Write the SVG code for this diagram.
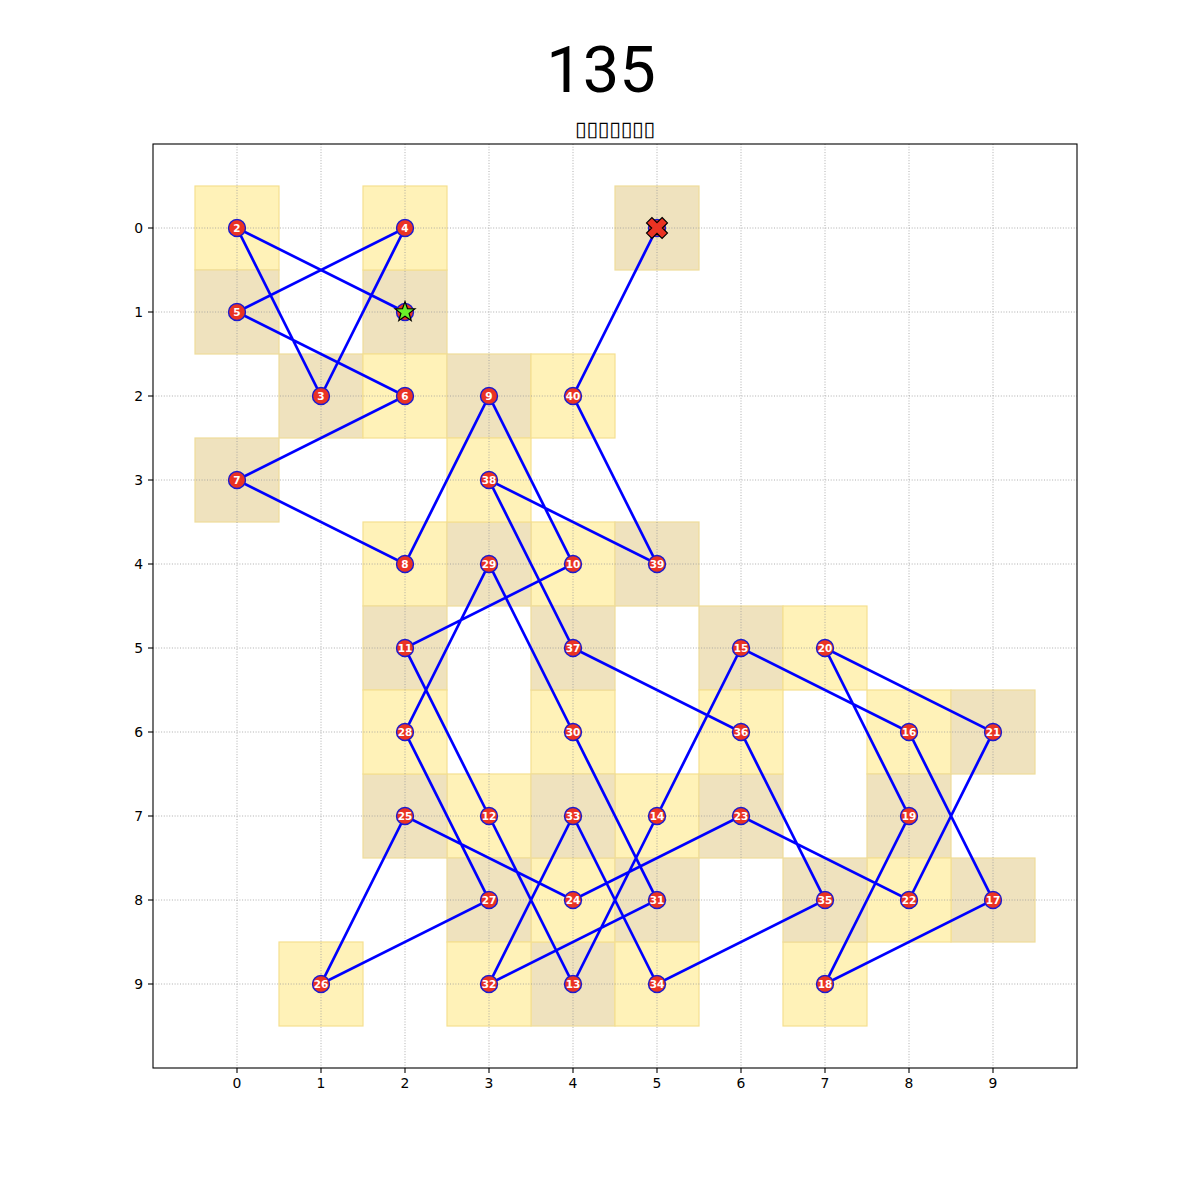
<svg xmlns="http://www.w3.org/2000/svg" width="1200" height="1200" viewBox="0 0 1200 1200">
<style>
.cy{fill:#fff2b8;stroke:#f5df8f;stroke-width:1.2}
.ct{fill:#efe2be;stroke:#eedc9a;stroke-width:1.2}
.g{stroke:#9a9a9a;stroke-width:0.8;stroke-dasharray:1,1.7}
.e{stroke:#0000ff;stroke-width:2.7;fill:none;stroke-linecap:butt}
.n circle{fill:#ea3323;stroke:#1a1ad0;stroke-width:1.4}
.n text{fill:#ffffff;font-family:"DejaVu Sans",sans-serif;font-weight:bold;font-size:10.5px;text-anchor:middle}
.tk{font-family:"DejaVu Sans",sans-serif;font-size:13.9px;fill:#000}
</style>
<rect width="1200" height="1200" fill="#ffffff"/>
<text x="601" y="92" font-family="Roboto, sans-serif" font-size="65" text-anchor="middle" fill="#000">135</text>
<text x="615" y="136" font-family="DejaVu Sans, sans-serif" font-size="21" text-anchor="middle" fill="#000" textLength="80" lengthAdjust="spacing">▯▯▯▯▯▯▯</text>
<g id="cells">
<rect class="ct" x="363" y="270" width="84" height="84"/>
<rect class="cy" x="195" y="186" width="84" height="84"/>
<rect class="ct" x="279" y="354" width="84" height="84"/>
<rect class="cy" x="363" y="186" width="84" height="84"/>
<rect class="ct" x="195" y="270" width="84" height="84"/>
<rect class="cy" x="363" y="354" width="84" height="84"/>
<rect class="ct" x="195" y="438" width="84" height="84"/>
<rect class="cy" x="363" y="522" width="84" height="84"/>
<rect class="ct" x="447" y="354" width="84" height="84"/>
<rect class="cy" x="531" y="522" width="84" height="84"/>
<rect class="ct" x="363" y="606" width="84" height="84"/>
<rect class="cy" x="447" y="774" width="84" height="84"/>
<rect class="ct" x="531" y="942" width="84" height="84"/>
<rect class="cy" x="615" y="774" width="84" height="84"/>
<rect class="ct" x="699" y="606" width="84" height="84"/>
<rect class="cy" x="867" y="690" width="84" height="84"/>
<rect class="ct" x="951" y="858" width="84" height="84"/>
<rect class="cy" x="783" y="942" width="84" height="84"/>
<rect class="ct" x="867" y="774" width="84" height="84"/>
<rect class="cy" x="783" y="606" width="84" height="84"/>
<rect class="ct" x="951" y="690" width="84" height="84"/>
<rect class="cy" x="867" y="858" width="84" height="84"/>
<rect class="ct" x="699" y="774" width="84" height="84"/>
<rect class="cy" x="531" y="858" width="84" height="84"/>
<rect class="ct" x="363" y="774" width="84" height="84"/>
<rect class="cy" x="279" y="942" width="84" height="84"/>
<rect class="ct" x="447" y="858" width="84" height="84"/>
<rect class="cy" x="363" y="690" width="84" height="84"/>
<rect class="ct" x="447" y="522" width="84" height="84"/>
<rect class="cy" x="531" y="690" width="84" height="84"/>
<rect class="ct" x="615" y="858" width="84" height="84"/>
<rect class="cy" x="447" y="942" width="84" height="84"/>
<rect class="ct" x="531" y="774" width="84" height="84"/>
<rect class="cy" x="615" y="942" width="84" height="84"/>
<rect class="ct" x="783" y="858" width="84" height="84"/>
<rect class="cy" x="699" y="690" width="84" height="84"/>
<rect class="ct" x="531" y="606" width="84" height="84"/>
<rect class="cy" x="447" y="438" width="84" height="84"/>
<rect class="ct" x="615" y="522" width="84" height="84"/>
<rect class="cy" x="531" y="354" width="84" height="84"/>
<rect class="ct" x="615" y="186" width="84" height="84"/>
</g>
<g id="grid">
<line class="g" x1="237" y1="144" x2="237" y2="1068"/>
<line class="g" x1="321" y1="144" x2="321" y2="1068"/>
<line class="g" x1="405" y1="144" x2="405" y2="1068"/>
<line class="g" x1="489" y1="144" x2="489" y2="1068"/>
<line class="g" x1="573" y1="144" x2="573" y2="1068"/>
<line class="g" x1="657" y1="144" x2="657" y2="1068"/>
<line class="g" x1="741" y1="144" x2="741" y2="1068"/>
<line class="g" x1="825" y1="144" x2="825" y2="1068"/>
<line class="g" x1="909" y1="144" x2="909" y2="1068"/>
<line class="g" x1="993" y1="144" x2="993" y2="1068"/>
<line class="g" x1="153" y1="228" x2="1077" y2="228"/>
<line class="g" x1="153" y1="312" x2="1077" y2="312"/>
<line class="g" x1="153" y1="396" x2="1077" y2="396"/>
<line class="g" x1="153" y1="480" x2="1077" y2="480"/>
<line class="g" x1="153" y1="564" x2="1077" y2="564"/>
<line class="g" x1="153" y1="648" x2="1077" y2="648"/>
<line class="g" x1="153" y1="732" x2="1077" y2="732"/>
<line class="g" x1="153" y1="816" x2="1077" y2="816"/>
<line class="g" x1="153" y1="900" x2="1077" y2="900"/>
<line class="g" x1="153" y1="984" x2="1077" y2="984"/>
</g>
<g id="axes">
<rect x="153" y="144" width="924" height="924" fill="none" stroke="#000" stroke-width="1.1"/>
<g stroke="#000" stroke-width="1.1">
<line x1="237" y1="1068" x2="237" y2="1073"/><line x1="321" y1="1068" x2="321" y2="1073"/><line x1="405" y1="1068" x2="405" y2="1073"/><line x1="489" y1="1068" x2="489" y2="1073"/><line x1="573" y1="1068" x2="573" y2="1073"/><line x1="657" y1="1068" x2="657" y2="1073"/><line x1="741" y1="1068" x2="741" y2="1073"/><line x1="825" y1="1068" x2="825" y2="1073"/><line x1="909" y1="1068" x2="909" y2="1073"/><line x1="993" y1="1068" x2="993" y2="1073"/>
<line x1="148" y1="228" x2="153" y2="228"/><line x1="148" y1="312" x2="153" y2="312"/><line x1="148" y1="396" x2="153" y2="396"/><line x1="148" y1="480" x2="153" y2="480"/><line x1="148" y1="564" x2="153" y2="564"/><line x1="148" y1="648" x2="153" y2="648"/><line x1="148" y1="732" x2="153" y2="732"/><line x1="148" y1="816" x2="153" y2="816"/><line x1="148" y1="900" x2="153" y2="900"/><line x1="148" y1="984" x2="153" y2="984"/>
</g>
<g class="tk" text-anchor="middle">
<text x="237" y="1088">0</text><text x="321" y="1088">1</text><text x="405" y="1088">2</text><text x="489" y="1088">3</text><text x="573" y="1088">4</text><text x="657" y="1088">5</text><text x="741" y="1088">6</text><text x="825" y="1088">7</text><text x="909" y="1088">8</text><text x="993" y="1088">9</text>
</g>
<g class="tk" text-anchor="end">
<text x="143" y="233">0</text><text x="143" y="317">1</text><text x="143" y="401">2</text><text x="143" y="485">3</text><text x="143" y="569">4</text><text x="143" y="653">5</text><text x="143" y="737">6</text><text x="143" y="821">7</text><text x="143" y="905">8</text><text x="143" y="989">9</text>
</g>
</g>
<g id="connectors">
<polyline class="e" points="405,312 237,228 321,396 405,228 237,312 405,396 237,480 405,564 489,396 573,564 405,648 489,816 573,984 657,816 741,648 909,732 993,900 825,984 909,816 825,648 993,732 909,900 741,816 573,900 405,816 321,984 489,900 405,732 489,564 573,732 657,900 489,984 573,816 657,984 825,900 741,732 573,648 489,480 657,564 573,396 657,228" stroke-linejoin="miter"/>
</g>
<g id="nodes">
<g id="n1" class="n"><circle cx="405" cy="312" r="8.5"/><polygon points="405,301.5 407.5,308.6 415,308.8 409.1,313.4 411.2,320.5 405,316.3 398.8,320.5 400.9,313.4 395,308.8 402.5,308.6" fill="#6af02a" stroke="#000" stroke-width="1.2"/></g>
<g id="n2" class="n"><circle cx="237" cy="228" r="8.5"/><text x="237" y="231.8">2</text></g>
<g id="n3" class="n"><circle cx="321" cy="396" r="8.5"/><text x="321" y="399.8">3</text></g>
<g id="n4" class="n"><circle cx="405" cy="228" r="8.5"/><text x="405" y="231.8">4</text></g>
<g id="n5" class="n"><circle cx="237" cy="312" r="8.5"/><text x="237" y="315.8">5</text></g>
<g id="n6" class="n"><circle cx="405" cy="396" r="8.5"/><text x="405" y="399.8">6</text></g>
<g id="n7" class="n"><circle cx="237" cy="480" r="8.5"/><text x="237" y="483.8">7</text></g>
<g id="n8" class="n"><circle cx="405" cy="564" r="8.5"/><text x="405" y="567.8">8</text></g>
<g id="n9" class="n"><circle cx="489" cy="396" r="8.5"/><text x="489" y="399.8">9</text></g>
<g id="n10" class="n"><circle cx="573" cy="564" r="8.5"/><text x="573" y="567.8">10</text></g>
<g id="n11" class="n"><circle cx="405" cy="648" r="8.5"/><text x="405" y="651.8">11</text></g>
<g id="n12" class="n"><circle cx="489" cy="816" r="8.5"/><text x="489" y="819.8">12</text></g>
<g id="n13" class="n"><circle cx="573" cy="984" r="8.5"/><text x="573" y="987.8">13</text></g>
<g id="n14" class="n"><circle cx="657" cy="816" r="8.5"/><text x="657" y="819.8">14</text></g>
<g id="n15" class="n"><circle cx="741" cy="648" r="8.5"/><text x="741" y="651.8">15</text></g>
<g id="n16" class="n"><circle cx="909" cy="732" r="8.5"/><text x="909" y="735.8">16</text></g>
<g id="n17" class="n"><circle cx="993" cy="900" r="8.5"/><text x="993" y="903.8">17</text></g>
<g id="n18" class="n"><circle cx="825" cy="984" r="8.5"/><text x="825" y="987.8">18</text></g>
<g id="n19" class="n"><circle cx="909" cy="816" r="8.5"/><text x="909" y="819.8">19</text></g>
<g id="n20" class="n"><circle cx="825" cy="648" r="8.5"/><text x="825" y="651.8">20</text></g>
<g id="n21" class="n"><circle cx="993" cy="732" r="8.5"/><text x="993" y="735.8">21</text></g>
<g id="n22" class="n"><circle cx="909" cy="900" r="8.5"/><text x="909" y="903.8">22</text></g>
<g id="n23" class="n"><circle cx="741" cy="816" r="8.5"/><text x="741" y="819.8">23</text></g>
<g id="n24" class="n"><circle cx="573" cy="900" r="8.5"/><text x="573" y="903.8">24</text></g>
<g id="n25" class="n"><circle cx="405" cy="816" r="8.5"/><text x="405" y="819.8">25</text></g>
<g id="n26" class="n"><circle cx="321" cy="984" r="8.5"/><text x="321" y="987.8">26</text></g>
<g id="n27" class="n"><circle cx="489" cy="900" r="8.5"/><text x="489" y="903.8">27</text></g>
<g id="n28" class="n"><circle cx="405" cy="732" r="8.5"/><text x="405" y="735.8">28</text></g>
<g id="n29" class="n"><circle cx="489" cy="564" r="8.5"/><text x="489" y="567.8">29</text></g>
<g id="n30" class="n"><circle cx="573" cy="732" r="8.5"/><text x="573" y="735.8">30</text></g>
<g id="n31" class="n"><circle cx="657" cy="900" r="8.5"/><text x="657" y="903.8">31</text></g>
<g id="n32" class="n"><circle cx="489" cy="984" r="8.5"/><text x="489" y="987.8">32</text></g>
<g id="n33" class="n"><circle cx="573" cy="816" r="8.5"/><text x="573" y="819.8">33</text></g>
<g id="n34" class="n"><circle cx="657" cy="984" r="8.5"/><text x="657" y="987.8">34</text></g>
<g id="n35" class="n"><circle cx="825" cy="900" r="8.5"/><text x="825" y="903.8">35</text></g>
<g id="n36" class="n"><circle cx="741" cy="732" r="8.5"/><text x="741" y="735.8">36</text></g>
<g id="n37" class="n"><circle cx="573" cy="648" r="8.5"/><text x="573" y="651.8">37</text></g>
<g id="n38" class="n"><circle cx="489" cy="480" r="8.5"/><text x="489" y="483.8">38</text></g>
<g id="n39" class="n"><circle cx="657" cy="564" r="8.5"/><text x="657" y="567.8">39</text></g>
<g id="n40" class="n"><circle cx="573" cy="396" r="8.5"/><text x="573" y="399.8">40</text></g>
<g id="n41" class="n"><circle cx="657" cy="228" r="8.5"/><polygon transform="translate(657,228) rotate(45)" points="-3.8,-11 3.8,-11 3.8,-3.8 11,-3.8 11,3.8 3.8,3.8 3.8,11 -3.8,11 -3.8,3.8 -11,3.8 -11,-3.8 -3.8,-3.8" fill="#ea3323" stroke="#000" stroke-width="1.2"/></g>
</g>
</svg>
